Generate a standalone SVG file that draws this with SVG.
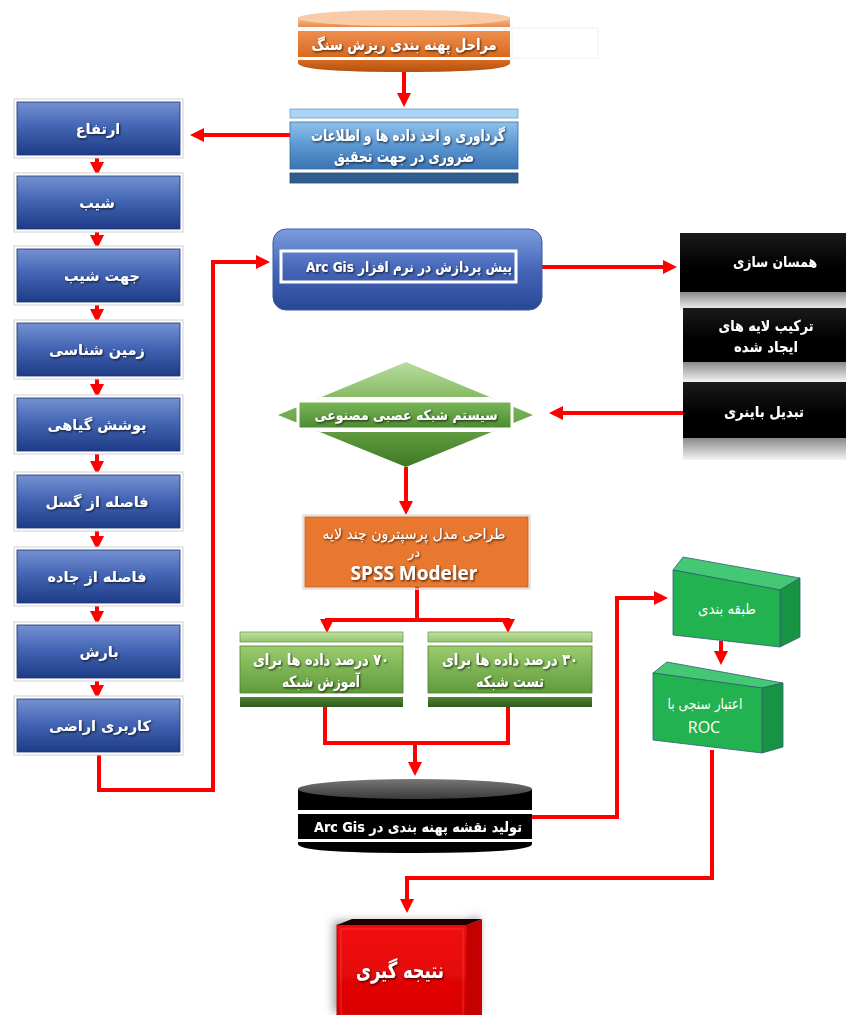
<svg xmlns="http://www.w3.org/2000/svg" width="846" height="1015" viewBox="0 0 846 1015">
<style>
.t{font-family:"DejaVu Sans",sans-serif;font-weight:bold;fill:#fff;text-anchor:middle;direction:rtl;filter:url(#ts)}
.c{stroke:#ff0000;stroke-width:4;fill:none}
.ca{stroke:#ff0000;stroke-width:4;fill:none;marker-end:url(#ah)}
.lb{fill:url(#gLeft);stroke:#1b3470;stroke-width:0.8}
.lbo{fill:#fff;stroke:#d0d0d0;stroke-width:1}
.lt{font-size:14.5px}
</style>
<defs>
<marker id="ah" viewBox="0 0 14 14" refX="2" refY="7" markerWidth="14" markerHeight="14" markerUnits="userSpaceOnUse" orient="auto"><path d="M0,0 L14,7 L0,14 Z" fill="#ff0000"/></marker>
<filter id="ts" x="-10%" y="-30%" width="120%" height="160%"><feDropShadow dx="1" dy="1.2" stdDeviation="0.8" flood-color="#000" flood-opacity="0.75"/></filter>
<filter id="sh" x="-20%" y="-20%" width="140%" height="140%"><feDropShadow dx="-3" dy="-3" stdDeviation="5" flood-color="#555" flood-opacity="0.6"/></filter>
<linearGradient id="gLeft" x1="0" y1="0" x2="0" y2="1"><stop offset="0" stop-color="#7591d2"/><stop offset="0.45" stop-color="#4466b4"/><stop offset="1" stop-color="#1e3b86"/></linearGradient>
<linearGradient id="gArc" x1="0" y1="0" x2="0" y2="1"><stop offset="0" stop-color="#7c9de0"/><stop offset="0.5" stop-color="#4566b8"/><stop offset="1" stop-color="#2a4796"/></linearGradient>
<linearGradient id="gBlue2" x1="0" y1="0" x2="0" y2="1"><stop offset="0" stop-color="#8fc0ea"/><stop offset="0.5" stop-color="#5b97d2"/><stop offset="1" stop-color="#3b74b4"/></linearGradient>
<linearGradient id="gOrTop" x1="0" y1="0" x2="0" y2="1"><stop offset="0" stop-color="#f8c49a"/><stop offset="1" stop-color="#e98a4a"/></linearGradient>
<linearGradient id="gOrBand" x1="0" y1="0" x2="0" y2="1"><stop offset="0" stop-color="#ee8e4e"/><stop offset="1" stop-color="#d8691f"/></linearGradient>
<linearGradient id="gOrBot" x1="0" y1="0" x2="0" y2="1"><stop offset="0" stop-color="#d8691f"/><stop offset="1" stop-color="#b2520f"/></linearGradient>
<linearGradient id="gBlk" x1="0" y1="0" x2="0" y2="1"><stop offset="0" stop-color="#1a1a1a"/><stop offset="0.6" stop-color="#000"/><stop offset="1" stop-color="#000"/></linearGradient>
<linearGradient id="gGray" x1="0" y1="0" x2="0" y2="1"><stop offset="0" stop-color="#8a8a8a"/><stop offset="1" stop-color="#f4f4f4"/></linearGradient>
<linearGradient id="gDia" x1="0" y1="0" x2="0" y2="1"><stop offset="0" stop-color="#b9dc9e"/><stop offset="0.4" stop-color="#7db559"/><stop offset="1" stop-color="#3c7a22"/></linearGradient>
<linearGradient id="gDiaB" x1="0" y1="0" x2="0" y2="1"><stop offset="0" stop-color="#7cb65a"/><stop offset="1" stop-color="#4a8a30"/></linearGradient>
<linearGradient id="gGrn" x1="0" y1="0" x2="0" y2="1"><stop offset="0" stop-color="#9bcb6e"/><stop offset="1" stop-color="#5f9b3a"/></linearGradient>
<linearGradient id="gGrnTop" x1="0" y1="0" x2="0" y2="1"><stop offset="0" stop-color="#c2e0a6"/><stop offset="1" stop-color="#93c46a"/></linearGradient>
<linearGradient id="gGrnBot" x1="0" y1="0" x2="0" y2="1"><stop offset="0" stop-color="#4f8630"/><stop offset="1" stop-color="#2f5a1c"/></linearGradient>
<linearGradient id="gRed" x1="0" y1="0" x2="0" y2="1"><stop offset="0" stop-color="#f21010"/><stop offset="1" stop-color="#d80000"/></linearGradient>
<linearGradient id="gCylTop" x1="0" y1="0" x2="0" y2="1"><stop offset="0" stop-color="#777"/><stop offset="1" stop-color="#3a3a3a"/></linearGradient>
<clipPath id="cDia"><polygon points="406,362 533,415 406,467 278,415"/></clipPath>
</defs>

<g id="connectors">
<path class="ca" d="M404,72 V95"/>
<path class="ca" d="M290,135 H202"/>
<path class="ca" d="M97,155 V164"/>
<path class="ca" d="M97,229 V237"/>
<path class="ca" d="M97,302 V311"/>
<path class="ca" d="M97,376 V386"/>
<path class="ca" d="M97,451 V463"/>
<path class="ca" d="M97,528 V538"/>
<path class="ca" d="M97,603 V613"/>
<path class="ca" d="M97,678 V687"/>
<path class="ca" d="M99,752 V790 H213 V262 H258"/>
<path class="ca" d="M542,267 H665"/>
<path class="ca" d="M768,292 V296"/>
<path class="ca" d="M768,362 V370"/>
<path class="ca" d="M683,413 H561"/>
<path class="ca" d="M406,467 V503"/>
<path class="ca" d="M417,587 V620 H327 V621"/>
<path class="ca" d="M417,620 H508 V621"/>
<path class="c" d="M325,707 V743 H508 V707"/>
<path class="ca" d="M415,743 V764"/>
<path class="ca" d="M532,817 H617 V598 H656"/>
<path class="ca" d="M721,641 V653"/>
<path class="ca" d="M712,750 V878 H407 V901"/>
</g>

<g id="n-title">
<rect x="512" y="28" width="86" height="30" fill="none" stroke="#f0f0f0" stroke-width="1"/>
<rect x="298" y="17" width="212" height="10" fill="url(#gOrTop)"/>
<ellipse cx="404" cy="18" rx="106" ry="8" fill="#f9cba6"/>
<rect x="298" y="31" width="212" height="26" fill="url(#gOrBand)"/>
<path d="M298,60 H510 V63 Q510,72 404,72 Q298,72 298,63 Z" fill="url(#gOrBot)"/>
<text class="t" x="404" y="50" font-size="15.5" textLength="185" lengthAdjust="spacingAndGlyphs">مراحل پهنه بندی ریزش سنگ</text>
</g>

<g id="n-collect">
<rect x="290" y="109" width="228" height="9" fill="#a9d4f3" stroke="#6f9cc6" stroke-width="0.8"/>
<rect x="290" y="122" width="228" height="47" fill="url(#gBlue2)" stroke="#3d6b9c" stroke-width="0.8"/>
<rect x="290" y="173" width="228" height="10" fill="#2e5f90" stroke="#24496f" stroke-width="0.8"/>
<text class="t" x="408" y="141" font-size="16" textLength="194" lengthAdjust="spacingAndGlyphs">گرداوری و اخذ داده ها و اطلاعات</text>
<text class="t" x="404" y="162" font-size="16" textLength="140" lengthAdjust="spacingAndGlyphs">ضروری در جهت تحقیق</text>
</g>

<g id="n-l1"><rect class="lbo" x="14" y="99" width="169" height="59"/><rect class="lb" x="17" y="102" width="163" height="53"/><text class="t lt" x="98" y="134">ارتفاع</text></g>
<g id="n-l2"><rect class="lbo" x="14" y="173" width="169" height="59"/><rect class="lb" x="17" y="176" width="163" height="53"/><text class="t lt" x="97" y="208">شیب</text></g>
<g id="n-l3"><rect class="lbo" x="14" y="246" width="169" height="59"/><rect class="lb" x="17" y="249" width="163" height="53"/><text class="t lt" x="102" y="281">جهت شیب</text></g>
<g id="n-l4"><rect class="lbo" x="14" y="320" width="169" height="59"/><rect class="lb" x="17" y="323" width="163" height="53"/><text class="t lt" x="97" y="355">زمین شناسی</text></g>
<g id="n-l5"><rect class="lbo" x="14" y="395" width="169" height="59"/><rect class="lb" x="17" y="398" width="163" height="53"/><text class="t lt" x="97" y="430">پوشش گیاهی</text></g>
<g id="n-l6"><rect class="lbo" x="14" y="472" width="169" height="59"/><rect class="lb" x="17" y="475" width="163" height="53"/><text class="t lt" x="97" y="507">فاصله از گسل</text></g>
<g id="n-l7"><rect class="lbo" x="14" y="547" width="169" height="59"/><rect class="lb" x="17" y="550" width="163" height="53"/><text class="t lt" x="97" y="582">فاصله از جاده</text></g>
<g id="n-l8"><rect class="lbo" x="14" y="622" width="169" height="59"/><rect class="lb" x="17" y="625" width="163" height="53"/><text class="t lt" x="99" y="657">بارش</text></g>
<g id="n-l9"><rect class="lbo" x="14" y="696" width="169" height="59"/><rect class="lb" x="17" y="699" width="163" height="53"/><text class="t lt" x="100" y="731">کاربری اراضی</text></g>

<g id="n-arcgis">
<rect x="273" y="229" width="269" height="81" rx="13" fill="url(#gArc)" stroke="#3a5aa6" stroke-width="1"/>
<rect x="281" y="251" width="235" height="31" fill="none" stroke="#fff" stroke-width="3"/>
<text class="t" x="409" y="272" font-size="14.5" textLength="206" lengthAdjust="spacingAndGlyphs">پیش پردازش در نرم افزار  Arc Gis</text>
</g>

<g id="n-b1">
<rect x="680" y="292" width="166" height="18" fill="url(#gGray)"/>
<rect x="680" y="233" width="166" height="59" fill="url(#gBlk)"/>
<text class="t" x="775" y="267" font-size="15" textLength="84" lengthAdjust="spacingAndGlyphs">همسان سازی</text>
</g>
<g id="n-b2">
<rect x="683" y="362" width="163" height="20" fill="url(#gGray)"/>
<rect x="683" y="308" width="163" height="54" fill="url(#gBlk)"/>
<text class="t" x="766" y="331" font-size="15" textLength="95" lengthAdjust="spacingAndGlyphs">ترکیب لایه های</text>
<text class="t" x="766" y="352" font-size="15" textLength="64" lengthAdjust="spacingAndGlyphs">ایجاد شده</text>
</g>
<g id="n-b3">
<rect x="683" y="438" width="163" height="22" fill="url(#gGray)"/>
<rect x="683" y="382" width="163" height="56" fill="url(#gBlk)"/>
<text class="t" x="764" y="417" font-size="15" textLength="80" lengthAdjust="spacingAndGlyphs">تبدیل باینری</text>
</g>

<g id="n-ann">
<polygon points="406,362 533,415 406,467 278,415" fill="url(#gDia)"/>
<g clip-path="url(#cDia)"><rect x="270" y="397" width="270" height="4" fill="#fff"/><rect x="270" y="428" width="270" height="4" fill="#fff"/></g>
<rect x="298" y="401" width="214" height="28" rx="2" fill="url(#gDiaB)" stroke="#fff" stroke-width="3"/>
<text class="t" x="406" y="420" font-size="14" textLength="183" lengthAdjust="spacingAndGlyphs">سیستم شبکه عصبی مصنوعی</text>
</g>

<g id="n-mlp">
<rect x="303" y="515" width="227" height="74" fill="none" stroke="#ddd" stroke-width="1.5"/>
<rect x="305" y="517" width="223" height="70" fill="#e8782f" stroke="#c9621e" stroke-width="1"/>
<text class="t" x="414" y="539" font-size="15" style="font-weight:normal" textLength="183" lengthAdjust="spacingAndGlyphs">طراحی مدل پرسپترون چند لایه</text>
<text class="t" x="414" y="557" font-size="13" style="font-weight:normal">در</text>
<text class="t" x="414" y="580" font-size="19" style="font-family:'Open Sans',sans-serif;direction:ltr">SPSS Modeler</text>
</g>

<g id="n-train">
<rect x="240" y="632" width="163" height="10" fill="url(#gGrnTop)" stroke="#6f9e4d" stroke-width="0.8"/>
<rect x="240" y="646" width="163" height="47" fill="url(#gGrn)" stroke="#4f7f31" stroke-width="0.8"/>
<rect x="240" y="697" width="163" height="10" fill="url(#gGrnBot)"/>
<text class="t" x="321" y="665" font-size="15.5" textLength="136" lengthAdjust="spacingAndGlyphs">۷۰ درصد داده ها برای</text>
<text class="t" x="321" y="687" font-size="15.5" textLength="78" lengthAdjust="spacingAndGlyphs">آموزش شبکه</text>
</g>
<g id="n-test">
<rect x="428" y="632" width="164" height="10" fill="url(#gGrnTop)" stroke="#6f9e4d" stroke-width="0.8"/>
<rect x="428" y="646" width="164" height="47" fill="url(#gGrn)" stroke="#4f7f31" stroke-width="0.8"/>
<rect x="428" y="697" width="164" height="10" fill="url(#gGrnBot)"/>
<text class="t" x="510" y="665" font-size="15.5" textLength="136" lengthAdjust="spacingAndGlyphs">۳۰ درصد داده ها برای</text>
<text class="t" x="510" y="687" font-size="15.5" textLength="68" lengthAdjust="spacingAndGlyphs">تست شبکه</text>
</g>

<g id="n-map">
<rect x="298" y="789" width="234" height="21" fill="#000"/>
<ellipse cx="415" cy="789" rx="117" ry="10" fill="url(#gCylTop)"/>
<rect x="298" y="814" width="234" height="25" fill="#000"/>
<path d="M298,842 H532 V844 Q532,853 415,853 Q298,853 298,844 Z" fill="#000"/>
<text class="t" x="418" y="832" font-size="14.5" textLength="208" lengthAdjust="spacingAndGlyphs">تولید نقشه پهنه بندی در  Arc Gis</text>
</g>

<g id="n-class">
<polygon points="673,570 683,557 800,578 780,590" fill="#45c874" stroke="#2f5f73" stroke-width="0.8"/>
<polygon points="780,590 800,578 800,637 780,647" fill="#169443" stroke="#2f5f73" stroke-width="0.8"/>
<polygon points="673,570 780,590 780,647 673,635" fill="#22b24f" stroke="#2f5f73" stroke-width="0.8"/>
<text class="t" x="727" y="614" font-size="15" style="filter:none;font-weight:normal" textLength="58" lengthAdjust="spacingAndGlyphs">طبقه بندی</text>
</g>
<g id="n-roc">
<polygon points="653,673 667,662 783,683 762,688" fill="#45c874" stroke="#2f5f73" stroke-width="0.8"/>
<polygon points="762,688 783,683 783,747 762,753" fill="#169443" stroke="#2f5f73" stroke-width="0.8"/>
<polygon points="653,673 762,688 762,753 653,740" fill="#22b24f" stroke="#2f5f73" stroke-width="0.8"/>
<text class="t" x="705" y="709" font-size="15" style="filter:none;font-weight:normal" textLength="75" lengthAdjust="spacingAndGlyphs">اعتبار سنجی با</text>
<text class="t" x="704" y="733" font-size="16" style="filter:none;font-weight:normal;font-family:'Open Sans',sans-serif;direction:ltr">ROC</text>
</g>

<g id="n-result">
<g filter="url(#sh)">
<polygon points="467,925 482,919 482,1015 467,1015" fill="#c40000"/>
<rect x="337" y="925" width="130" height="90" fill="url(#gRed)" stroke="#b00000" stroke-width="1"/>
</g>
<path d="M337,925 L467,925 L482,919 L352,919 Z" fill="#220000"/>
<rect x="341" y="929" width="122" height="86" fill="none" stroke="#ff5a5a" stroke-width="0.8" opacity="0.6"/>
<text class="t" x="400" y="978" font-size="22" textLength="88" lengthAdjust="spacingAndGlyphs">نتیجه گیری</text>
</g>
</svg>
